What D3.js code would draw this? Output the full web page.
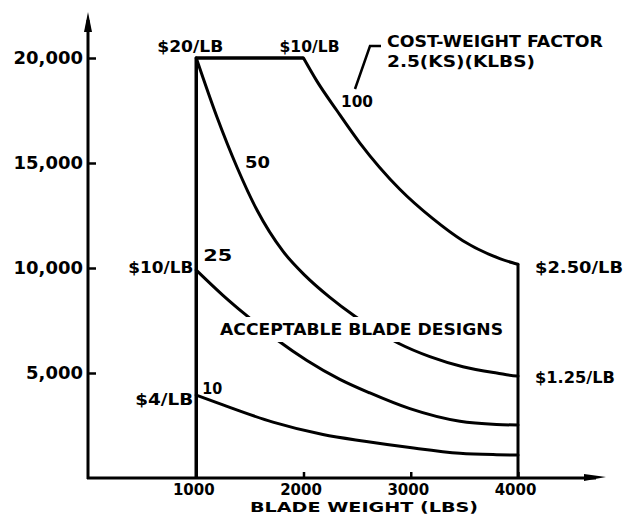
<!DOCTYPE html>
<html><head><meta charset="utf-8">
<script src="https://cdn.jsdelivr.net/npm/d3@7"></script>
<style>body{margin:0;background:#fff}svg{display:block}</style>
</head><body><svg id="c" width="625" height="526"></svg>
<script>
// ---- data ----
const xTicks = [1000, 2000, 3000, 4000];
const yTicks = [5000, 10000, 15000, 20000];
const xTitle = "BLADE WEIGHT (LBS)";
const factorTitle = ["COST-WEIGHT FACTOR", "2.5(KS)(KLBS)"];
const regionLabel = "ACCEPTABLE BLADE DESIGNS";

const w100 = [2000, 2125, 2311, 2526, 2898, 3206, 3486, 3830, 3950, 4000];
const c100 = [20000, 18900, 17500, 15950, 13750, 12350, 11300, 10450, 10250, 10180];
const w50 = [1000, 1193, 1379, 1566, 1808, 2013, 2246, 2479, 2880, 3178, 3486, 3802, 3990, 4000];
const c50 = [20000, 17190, 14810, 12760, 10800, 9650, 8600, 7700, 6430, 5780, 5300, 5000, 4860, 4860];
const w25 = [1000, 1249, 1454, 1761, 2032, 2339, 2619, 2992, 3458, 3800, 4000];
const c25 = [9900, 8700, 7800, 6550, 5600, 4700, 4050, 3300, 2700, 2550, 2520];
const w10 = [1000, 1249, 1715, 2181, 2570, 2992, 3458, 3800, 4000];
const c10 = [3950, 3480, 2660, 2070, 1750, 1450, 1180, 1110, 1090];

const leftEdgeW = [1000, 1000, 2000];
const leftEdgeC = [0, 20000, 20000];
const rightEdgeW = [4000, 4000];
const rightEdgeC = [10180, 0];

// ---- drawing ----
const svg = d3.select("#c");
const x = d3.scaleLinear().domain([0, 4000]).range([89, 518]);
const y = d3.scaleLinear().domain([0, 20000]).range([478, 58]);
const FONT = "DejaVu Sans";
const ink = "#000";

const line = d3.line().x(d => x(d[0])).y(d => y(d[1]));
const smooth = d3.line().x(d => x(d[0])).y(d => y(d[1])).curve(d3.curveMonotoneX);
const zip = (a, b) => a.map((v, i) => [v, b[i]]);

// axes
const gy = svg.append("g").attr("transform", `translate(${x(0) - 1},0)`)
  .call(d3.axisLeft(y).tickValues(yTicks).tickFormat(d3.format(","))
    .tickSizeInner(-8).tickSizeOuter(0).tickPadding(5));
gy.select(".domain").remove();
gy.selectAll("line").attr("stroke", ink).attr("stroke-width", 2.5);
gy.selectAll("text").attr("font-family", FONT).attr("font-weight", "bold")
  .attr("font-size", 18).attr("fill", ink);

const gx = svg.append("g").attr("transform", `translate(0,${y(0)})`)
  .call(d3.axisBottom(x).tickValues(xTicks).tickFormat(d3.format("d"))
    .tickSizeInner(-6).tickSizeOuter(0).tickPadding(6));
gx.select(".domain").remove();
gx.selectAll("line").attr("stroke", ink).attr("stroke-width", 2.5);
gx.selectAll("text").attr("font-family", FONT).attr("font-weight", "bold")
  .attr("font-size", 15).attr("fill", ink).attr("dx", -3);

// axis lines with arrows
const ax0 = x(0) - 1, ay0 = y(0);
svg.append("path").attr("d", `M${ax0},${ay0 + 1}V20`).attr("stroke", ink).attr("stroke-width", 3).attr("fill", "none");
svg.append("path").attr("d", `M${ax0},12L${ax0 - 4},32L${ax0 + 4},32Z`).attr("fill", ink);
svg.append("path").attr("d", `M${ax0 - 1},${ay0}H596`).attr("stroke", ink).attr("stroke-width", 3).attr("fill", "none");
svg.append("path").attr("d", `M606,${ay0 - 1}L584,${ay0 - 4}L584,${ay0 + 3}Z`).attr("fill", ink);

// boundary
svg.append("path").attr("d", line(zip(leftEdgeW, leftEdgeC)))
  .attr("stroke", ink).attr("stroke-width", 3.5).attr("fill", "none").attr("stroke-linejoin", "round");
svg.append("path").attr("d", line(zip(rightEdgeW, rightEdgeC)))
  .attr("stroke", ink).attr("stroke-width", 3).attr("fill", "none");

// curves
[[w100, c100], [w50, c50], [w25, c25], [w10, c10]].forEach(([w, c]) => {
  svg.append("path").attr("d", smooth(zip(w, c)))
    .attr("stroke", ink).attr("stroke-width", 3).attr("fill", "none").attr("stroke-linecap", "round");
});

// white gap behind region label
svg.append("rect").attr("x", 214).attr("y", 317).attr("width", 296).attr("height", 25).attr("fill", "#fff");

function txt(px, py, s, size, width, anchor) {
  const t = svg.append("text").attr("x", px).attr("y", py).text(s)
    .attr("font-family", FONT).attr("font-weight", "bold").attr("font-size", size)
    .attr("fill", ink).attr("dominant-baseline", "central").attr("text-anchor", anchor || "start");
  if (width) t.attr("textLength", width).attr("lengthAdjust", "spacingAndGlyphs");
  return t;
}

// price labels
txt(x(1000) - 39, y(20000) - 11, "$20/LB", 15, 66);
txt(x(2000) - 24, y(20000) - 11, "$10/LB", 15, 60);
txt(x(1000) - 68, y(10000), "$10/LB", 15, 65);
txt(x(1000) - 61, y(4000) + 6, "$4/LB", 15, 58);
txt(x(4000) + 17, y(10000), "$2.50/LB", 15, 88);
txt(x(4000) + 17, y(5000) + 5, "$1.25/LB", 15, 80);

// curve factor labels
txt(341, 102, "100", 15, 32);
txt(245, 163, "50", 15, 25);
txt(x(1000) + 7, y(10000) - 12, "25", 15, 29);
txt(x(1000) + 6, y(4000) - 5, "10", 15, 20);

// factor title + leader
txt(387, 42, factorTitle[0], 15, 216);
txt(387, 62, factorTitle[1], 15, 148);
svg.append("path").attr("d", "M355,89L370,46H381").attr("stroke", ink).attr("stroke-width", 2.5).attr("fill", "none");

// region label
txt(220, 330, regionLabel, 15, 283);

// x title
txt(250, 507, xTitle, 14, 228);
</script></body></html>
